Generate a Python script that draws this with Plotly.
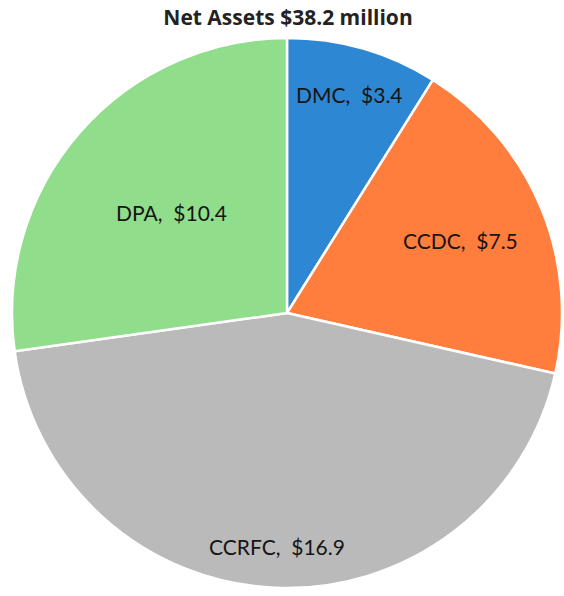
import math
import plotly.graph_objects as go

labels = ["DMC", "CCDC", "CCRFC", "DPA"]
values = [3.4, 7.5, 16.9, 10.4]
colors = ["#2e87d3", "#ff7d3d", "#bababa", "#90dd8b"]
label_radius = [0.825, 0.683, 0.85, 0.556]  # fraction of pie radius for each label
title = "Net Assets $38.2 million"

W, H = 564, 596
cx, cy, r = 287, 313, 275

dom_x = [(cx - r) / W, (cx + r) / W]
dom_y = [(H - cy - r) / H, (H - cy + r) / H]

fig = go.Figure(go.Pie(
    labels=labels,
    values=values,
    sort=False,
    direction="clockwise",
    rotation=0,
    marker=dict(colors=colors, line=dict(color="white", width=2.5)),
    textinfo="none",
    showlegend=False,
    hoverinfo="label+value",
    domain=dict(x=dom_x, y=dom_y),
))

total = sum(values)
cum = 0.0
for lab, v, fr in zip(labels, values, label_radius):
    mid = (cum + v / 2) / total * 2 * math.pi
    cum += v
    px = cx + fr * r * math.sin(mid)
    py = cy - fr * r * math.cos(mid)
    fig.add_annotation(
        x=px / W, y=1 - py / H, xref="paper", yref="paper",
        text=f"{lab},\u00a0 ${v}", showarrow=False, xanchor="center", yanchor="middle",
        font=dict(family="Lato, Open Sans, sans-serif", size=21, color="#151515"),
    )

fig.update_layout(
    width=W, height=H,
    margin=dict(l=0, r=0, t=0, b=0),
    paper_bgcolor="white",
    title=dict(text="<b>" + title + "</b>", x=288 / W, xanchor="center", y=1 - 18 / H, yanchor="middle",
               font=dict(family="Open Sans, Noto Sans, sans-serif", size=21, color="#222222")),
)

fig.write_html("out.html")
